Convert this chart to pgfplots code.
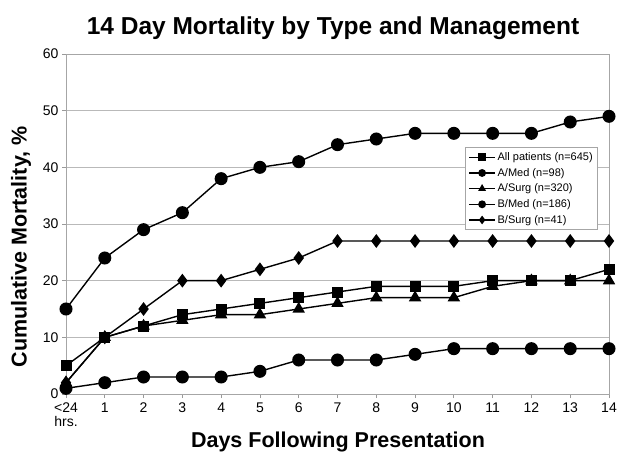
\documentclass[border=0pt]{standalone}
\usepackage{fontspec}
\setmainfont{Liberation Sans}
\usepackage{pgfplots}
\pgfplotsset{compat=1.18}
\begin{document}
\begin{tikzpicture}[x=1pt,y=1pt]
\path[use as bounding box] (0,0) rectangle (618,456);
\begin{axis}[
  at={(66pt,62pt)}, anchor=south west,
  scale only axis, width=543pt, height=340pt,
  xmin=0, xmax=14, ymin=0, ymax=60,
  xtick={0,...,14},
  xticklabels={{<24\\hrs.},1,2,3,4,5,6,7,8,9,10,11,12,13,14},
  xticklabel style={align=center, font=\fontsize{14}{14.5}\selectfont, yshift=-1pt},
  ytick={0,10,...,60},
  yticklabel style={font=\fontsize{14}{15}\selectfont},
  /pgf/number format/assume math mode=true,
  tick align=outside, tick style={gray!80, line width=0.8pt},
  major tick length=4pt,
  xtick pos=bottom, ytick pos=left,
  axis line style={gray!70, line width=0.9pt},
  ymajorgrids, grid style={gray!55, line width=0.9pt},
  every axis plot/.append style={black, line width=1.4pt, mark options={solid, fill=black}},
  legend style={at={(0.98,0.726)}, anchor=north east, draw=gray!70, line width=0.8pt,
    font=\fontsize{11}{12}\selectfont, row sep=2.2pt, inner sep=3pt},
  legend cell align=left,
  legend image code/.code={\draw[#1, line width=1.1pt] (0pt,0pt) -- (26pt,0pt); \draw[#1, mark size=3.2pt] plot coordinates {(13pt,0pt)};},
]
\addplot[mark=square*, mark size=4.8pt] coordinates {
(0,5)(1,10)(2,12)(3,14)(4,15)(5,16)(6,17)(7,18)(8,19)(9,19)(10,19)(11,20)(12,20)(13,20)(14,22)};
\addlegendentry{All patients (n=645)}
\addplot[mark=*, mark size=5.8pt] coordinates {
(0,15)(1,24)(2,29)(3,32)(4,38)(5,40)(6,41)(7,44)(8,45)(9,46)(10,46)(11,46)(12,46)(13,48)(14,49)};
\addlegendentry{A/Med (n=98)}
\addplot[mark=triangle*, mark size=5.8pt] coordinates {
(0,2)(1,10)(2,12)(3,13)(4,14)(5,14)(6,15)(7,16)(8,17)(9,17)(10,17)(11,19)(12,20)(13,20)(14,20)};
\addlegendentry{A/Surg (n=320)}
\addplot[mark=*, mark size=5.8pt] coordinates {
(0,1)(1,2)(2,3)(3,3)(4,3)(5,4)(6,6)(7,6)(8,6)(9,7)(10,8)(11,8)(12,8)(13,8)(14,8)};
\addlegendentry{B/Med (n=186)}
\addplot[mark=diamond*, mark size=5.8pt] coordinates {
(0,2)(1,10)(2,15)(3,20)(4,20)(5,22)(6,24)(7,27)(8,27)(9,27)(10,27)(11,27)(12,27)(13,27)(14,27)};
\addlegendentry{B/Surg (n=41)}
\end{axis}
\node[font=\bfseries\fontsize{24.5}{26}\selectfont] at (333,428) {14 Day Mortality by Type and Management};
\node[font=\bfseries\fontsize{21.5}{23}\selectfont] at (338,14) {Days Following Presentation};
\node[font=\bfseries\fontsize{21.5}{23}\selectfont, rotate=90] at (21,209) {Cumulative Mortality, \%};
\end{tikzpicture}
\end{document}
